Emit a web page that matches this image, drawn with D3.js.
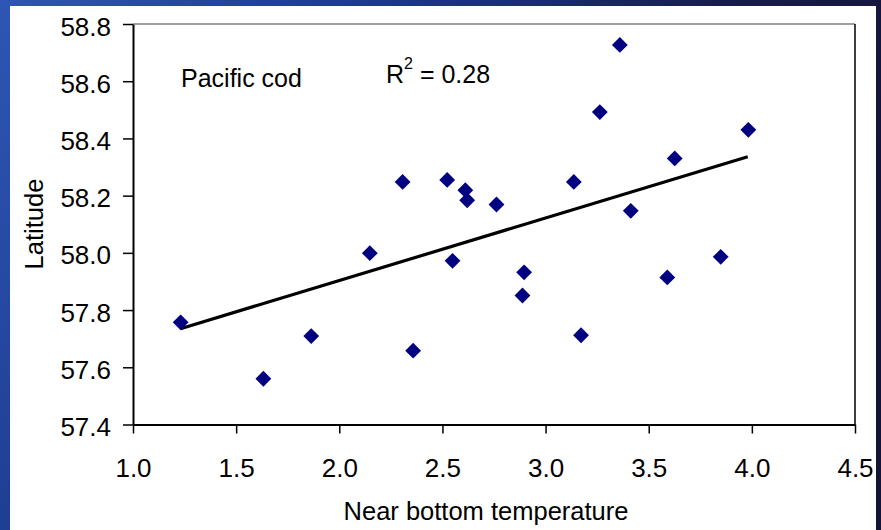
<!DOCTYPE html>
<html>
<head>
<meta charset="utf-8">
<script src="https://cdn.jsdelivr.net/npm/d3@7"></script>
<style>
  body { margin: 0; overflow: hidden; }
  svg text { font-family: "Liberation Sans", Arial, sans-serif; fill: #000; }
</style>
</head>
<body>
<div id="chart"></div>
<script>
// data
const temps = [1.231, 1.632, 1.864, 2.148, 2.307, 2.358, 2.523, 2.549, 2.611, 2.620, 2.762,
               2.888, 2.896, 3.137, 3.172, 3.263, 3.360, 3.413, 3.590, 3.626, 3.849, 3.983];
const lats  = [57.757, 57.560, 57.709, 57.999, 58.248, 57.658, 58.255, 57.972, 58.219, 58.184, 58.169,
               57.851, 57.932, 58.248, 57.712, 58.492, 58.727, 58.147, 57.914, 58.330, 57.986, 58.430];
const trendX = [1.23, 3.98];
const trendY = [57.735, 58.336];
const xTicks = [1.0, 1.5, 2.0, 2.5, 3.0, 3.5, 4.0, 4.5];
const yTicks = [57.4, 57.6, 57.8, 58.0, 58.2, 58.4, 58.6, 58.8];
const species = "Pacific cod";
const r2 = "0.28";

const W = 881, H = 530;
const svg = d3.select('#chart').append('svg').attr('width', W).attr('height', H);

// slide background
const grad = svg.append('defs').append('linearGradient')
  .attr('id', 'bg').attr('x1', 0).attr('y1', 0).attr('x2', 1).attr('y2', 0.35);
grad.append('stop').attr('offset', '0%').attr('stop-color', '#2f56b6');
grad.append('stop').attr('offset', '35%').attr('stop-color', '#1d3c8e');
grad.append('stop').attr('offset', '75%').attr('stop-color', '#161c4a');
grad.append('stop').attr('offset', '100%').attr('stop-color', '#131334');
svg.append('rect').attr('width', W).attr('height', H).attr('fill', 'url(#bg)');
svg.append('rect').attr('x', 10).attr('y', 6).attr('width', 866).attr('height', H - 6).attr('fill', '#fff');

const x = d3.scaleLinear().domain([1, 4.5]).range([133, 855]);
const y = d3.scaleLinear().domain([57.4, 58.8]).range([424.5, 24]);

// plot frame (top grey, right black)
svg.append('line').attr('x1', x(1)).attr('x2', x(4.5)).attr('y1', y(58.8)).attr('y2', y(58.8))
  .style('stroke', '#808080').style('stroke-width', 1.5);
svg.append('line').attr('x1', x(4.5)).attr('x2', x(4.5)).attr('y1', y(58.8)).attr('y2', y(57.4))
  .style('stroke', '#000').style('stroke-width', 1.5);

const xAxis = svg.append('g').attr('transform', `translate(0,${y(57.4)})`)
  .call(d3.axisBottom(x).tickValues(xTicks).tickFormat(d3.format('.1f')).tickSize(9).tickSizeOuter(0));
const yAxis = svg.append('g').attr('transform', `translate(${x(1)},0)`)
  .call(d3.axisLeft(y).tickValues(yTicks).tickFormat(d3.format('.1f')).tickSize(10).tickSizeOuter(0));

[xAxis, yAxis].forEach(a => {
  a.select('.domain').style('stroke', '#000').style('stroke-width', 2);
  a.selectAll('.tick line').style('stroke', '#000').style('stroke-width', 1.5);
  a.selectAll('.tick text').style('font-size', '26px').style('font-family', '"Liberation Sans", Arial, sans-serif');
});
xAxis.selectAll('.tick text').attr('y', 0).attr('dy', null).attr('transform', 'translate(0,52)');
yAxis.selectAll('.tick text').attr('x', -22).attr('dy', '11px');

// trend line
svg.append('path')
  .datum(trendX.map((d, i) => [d, trendY[i]]))
  .attr('d', d3.line().x(d => x(d[0])).y(d => y(d[1])))
  .attr('fill', 'none')
  .style('stroke', '#000')
  .style('stroke-width', 3.2);

// diamonds
svg.append('g').selectAll('path')
  .data(temps.map((d, i) => [d, lats[i]]))
  .join('path')
  .attr('d', d3.symbol().type(d3.symbolSquare).size(125))
  .attr('transform', d => `translate(${x(d[0])},${y(d[1])}) rotate(45)`)
  .attr('fill', '#000080');

// labels
svg.append('text').attr('x', 181).attr('y', 87).style('font-size', '25px').text(species);
const rt = svg.append('text').attr('x', 386).attr('y', 83).style('font-size', '25px');
rt.append('tspan').text('R');
rt.append('tspan').attr('dy', -14).style('font-size', '16px').text('2');
rt.append('tspan').attr('dy', 14).text(' = ' + r2);

svg.append('text')
  .attr('x', 486).attr('y', 520)
  .attr('text-anchor', 'middle')
  .style('font-size', '25.5px')
  .text('Near bottom temperature');

svg.append('text')
  .attr('transform', 'translate(43,224) rotate(-90)')
  .attr('text-anchor', 'middle')
  .style('font-size', '25.5px')
  .text('Latitude');
</script>
</body>
</html>
